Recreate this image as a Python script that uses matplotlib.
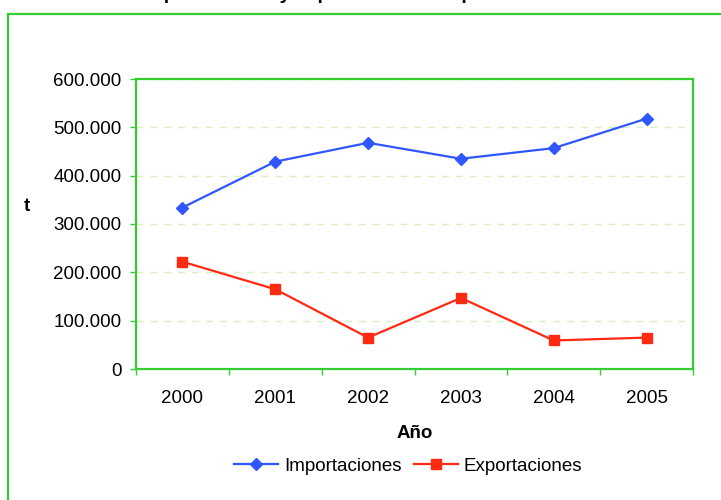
import matplotlib
matplotlib.use("Agg")
import matplotlib.pyplot as plt
from matplotlib.patches import Rectangle
from matplotlib.ticker import FuncFormatter, FixedLocator

plt.rcParams['font.family'] = ['Liberation Sans', 'DejaVu Sans']

# Data (tonnes per year)
years = ['2000', '2001', '2002', '2003', '2004', '2005']
importaciones = [334000, 429000, 468000, 435000, 457000, 518000]
exportaciones = [222000, 165000, 65000, 147000, 59000, 65000]
y_ticks = [0, 100000, 200000, 300000, 400000, 500000, 600000]

title = 'Importaciones y exportaciones de pescado'

W, H = 721, 500
fig = plt.figure(figsize=(W / 100, H / 100), dpi=100)
fig.patch.set_facecolor('white')

GREEN = '#33cc33'
GRID = '#d6f0c2'
BLUE = '#3057ff'
RED = '#ff2a12'
FS = 13.5

# outer chart frame (runs off the right and bottom edges)
frame = Rectangle((8 / W, -0.2), 1.3, 0.2 + (1 - 14 / H), transform=fig.transFigure,
                  fill=False, edgecolor=GREEN, linewidth=1.6, clip_on=False)
fig.patches.append(frame)

# title sits mostly above the canvas
fig.text(141 / W, 1 + 1.5 / H, title, ha='left', va='baseline',
         fontsize=14, fontweight='bold', color='black')

left, right, top, bottom = 136, 693, 79, 369
ax = fig.add_axes([left / W, 1 - bottom / H, (right - left) / W, (bottom - top) / H])

x = list(range(len(years)))
ax.plot(x, importaciones, color=BLUE, lw=1.6, marker='D', ms=6.2,
        mfc=BLUE, mec=BLUE, label='Importaciones', zorder=3)
ax.plot(x, exportaciones, color=RED, lw=1.6, marker='s', ms=7.6,
        mfc=RED, mec=RED, label='Exportaciones', zorder=3)

ax.set_xlim(-0.5, len(years) - 0.5)
ax.set_ylim(y_ticks[0], y_ticks[-1])

# category ticks: marks at boundaries, labels centred
ax.xaxis.set_major_locator(FixedLocator([i - 0.5 for i in range(len(years) + 1)]))
ax.xaxis.set_major_formatter(FuncFormatter(lambda v, p: ''))
ax.xaxis.set_minor_locator(FixedLocator(x))
ax.set_xticklabels(years, minor=True)
ax.tick_params(axis='x', which='major', direction='out', length=4, width=1, color=GREEN)
ax.tick_params(axis='x', which='minor', length=0, pad=15, labelsize=FS)

ax.set_yticks(y_ticks)
ax.yaxis.set_major_formatter(FuncFormatter(lambda v, p: f'{int(v):,}'.replace(',', '.')))
ax.tick_params(axis='y', direction='out', length=4, width=1, color=GREEN, pad=6.5, labelsize=FS)

for s in ax.spines.values():
    s.set_color(GREEN)
    s.set_linewidth(1.6)

ax.grid(axis='y', color=GRID, linestyle=(0, (5, 5)), linewidth=1)
ax.set_axisbelow(True)

fig.text(415 / W, 1 - 433 / H, 'Año', ha='center', va='center',
         fontsize=FS, fontweight='bold')
fig.text(27 / W, 1 - 207 / H, 't', ha='center', va='center',
         fontsize=FS, fontweight='bold')

fig.legend(loc='center', bbox_to_anchor=(408 / W, 1 - 466 / H), ncol=2,
           frameon=False, fontsize=FS, handlelength=2.35, handletextpad=0.3,
           columnspacing=0.65, borderaxespad=0)

fig.savefig('out.png', dpi=100, facecolor='white')
